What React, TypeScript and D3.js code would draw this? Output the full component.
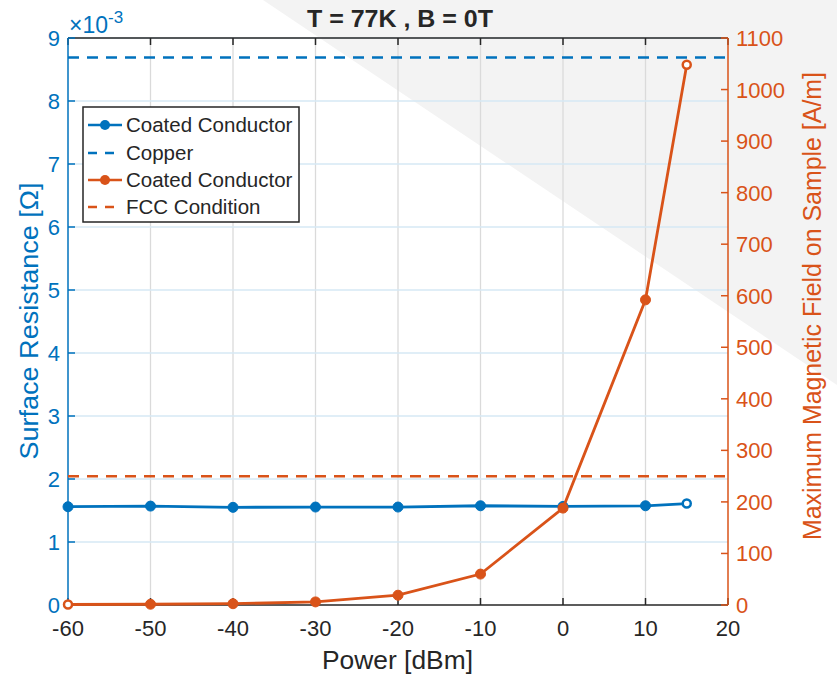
import React from "react";
import * as d3 from "d3";

const power = [-60, -50, -40, -30, -20, -10, 0, 10, 15];
const surfaceResistance = [1.56, 1.57, 1.55, 1.555, 1.555, 1.575, 1.565, 1.575, 1.61]; // ×10^-3 Ω
const magneticField = [1, 1.5, 2.5, 6, 19, 60, 188, 592, 1048]; // A/m
const copperLevel = 8.69; // ×10^-3 Ω
const fccLevel = 250; // A/m
const xTicks = [-60, -50, -40, -30, -20, -10, 0, 10, 20];
const leftTicks = [0, 1, 2, 3, 4, 5, 6, 7, 8, 9];
const rightTicks = [0, 100, 200, 300, 400, 500, 600, 700, 800, 900, 1000, 1100];
const legendLabels = ["Coated Conductor", "Copper", "Coated Conductor", "FCC Condition"];

const W = 837, H = 676;
const M = { left: 68, right: 728, top: 38, bottom: 605 };
const BLUE = "#0072BD";
const ORANGE = "#D95319";
const DARK = "#262626";
const FONT = "'Liberation Sans', Arial, Helvetica, sans-serif";

export default function App() {
  const x = d3.scaleLinear().domain([-60, 20]).range([M.left, M.right]);
  const yL = d3.scaleLinear().domain([0, 9]).range([M.bottom, M.top]);
  const yR = d3.scaleLinear().domain([0, 1100]).range([M.bottom, M.top]);

  const lineL = d3.line<number>().x((_, i) => x(power[i])).y((d) => yL(d));
  const lineR = d3.line<number>().x((_, i) => x(power[i])).y((d) => yR(d));
  const last = power.length - 1;
  const tick = 7;

  const legendY = [125, 153, 180, 207];

  return (
    <svg width={W} height={H} style={{ position: "absolute", left: 0, top: 0, background: "#fff" }} fontFamily={FONT}>
      <rect width={W} height={H} fill="#fff" />
      <polygon points={`263,0 ${W},0 ${W},385`} fill="#f3f3f3" />

      {/* grid */}
      {xTicks.slice(1, -1).map((t) => (
        <line key={"gx" + t} x1={x(t)} x2={x(t)} y1={M.top} y2={M.bottom} stroke="#dadada" strokeWidth={1.3} />
      ))}
      {leftTicks.slice(1).map((t) => (
        <line key={"gy" + t} x1={M.left} x2={M.right} y1={yL(t)} y2={yL(t)} stroke="#d6e8f5" strokeWidth={1.3} />
      ))}

      {/* box top/bottom */}
      <line x1={M.left} x2={M.right} y1={M.top} y2={M.top} stroke={DARK} strokeWidth={1.5} />
      <line x1={M.left} x2={M.right} y1={M.bottom} y2={M.bottom} stroke={DARK} strokeWidth={1.5} />
      {xTicks.map((t) => (
        <g key={"xt" + t}>
          <line x1={x(t)} x2={x(t)} y1={M.bottom} y2={M.bottom - tick} stroke={DARK} strokeWidth={1.5} />
          <line x1={x(t)} x2={x(t)} y1={M.top} y2={M.top + tick} stroke={DARK} strokeWidth={1.5} />
          <text x={x(t)} y={M.bottom + 31} fontSize={22} fill={DARK} textAnchor="middle">{t}</text>
        </g>
      ))}

      {/* left axis */}
      <line x1={M.left} x2={M.left} y1={M.top} y2={M.bottom} stroke={BLUE} strokeWidth={1.5} />
      {leftTicks.map((t) => (
        <g key={"lt" + t}>
          <line x1={M.left} x2={M.left + tick} y1={yL(t)} y2={yL(t)} stroke={BLUE} strokeWidth={1.5} />
          <text x={M.left - 8} y={yL(t) + 8} fontSize={22} fill={BLUE} textAnchor="end">{t}</text>
        </g>
      ))}
      <text x={69} y={33} fontSize={23} fill={BLUE}>
        ×10<tspan dy={-10} fontSize={17}>-3</tspan>
      </text>
      <text transform={`translate(38,321) rotate(-90)`} fontSize={25} fill={BLUE} textAnchor="middle"
        textLength={277} lengthAdjust="spacingAndGlyphs">
        Surface Resistance [Ω]
      </text>

      {/* right axis */}
      <line x1={M.right} x2={M.right} y1={M.top} y2={M.bottom} stroke={ORANGE} strokeWidth={1.5} />
      {rightTicks.map((t) => (
        <g key={"rt" + t}>
          <line x1={M.right} x2={M.right - tick} y1={yR(t)} y2={yR(t)} stroke={ORANGE} strokeWidth={1.5} />
          <text x={M.right + 8} y={yR(t) + 8} fontSize={22} fill={ORANGE} textAnchor="start">{t}</text>
        </g>
      ))}
      <text transform={`translate(821,306) rotate(-90)`} fontSize={25} fill={ORANGE} textAnchor="middle"
        textLength={468} lengthAdjust="spacingAndGlyphs">
        Maximum Magnetic Field on Sample [A/m]
      </text>

      {/* x label + title */}
      <text x={397.5} y={669} fontSize={25} fill={DARK} textAnchor="middle" textLength={151} lengthAdjust="spacingAndGlyphs">Power [dBm]</text>
      <text x={400} y={27} fontSize={24} fontWeight="bold" fill={DARK} textAnchor="middle" textLength={186} lengthAdjust="spacingAndGlyphs">T = 77K , B = 0T</text>

      {/* reference lines */}
      <line x1={M.left} x2={M.right} y1={yL(copperLevel)} y2={yL(copperLevel)} stroke={BLUE} strokeWidth={2.5} strokeDasharray="11,8" />
      <line x1={M.left} x2={M.right} y1={yR(fccLevel)} y2={yR(fccLevel)} stroke={ORANGE} strokeWidth={2.5} strokeDasharray="11,8" />

      {/* blue series */}
      <path d={lineL(surfaceResistance) || ""} fill="none" stroke={BLUE} strokeWidth={2.8} />
      {surfaceResistance.map((v, i) => (
        <circle key={"bm" + i} cx={x(power[i])} cy={yL(v)} r={i === last ? 4 : 5} fill={i === last ? "#fff" : BLUE} stroke={BLUE} strokeWidth={i === last ? 2.5 : 1} />
      ))}

      {/* orange series */}
      <path d={lineR(magneticField) || ""} fill="none" stroke={ORANGE} strokeWidth={2.8} />
      {magneticField.map((v, i) => {
        const hollow = i === 0 || i === last;
        return (
          <circle key={"om" + i} cx={x(power[i])} cy={yR(v)} r={hollow ? 4 : 5} fill={hollow ? "#fff" : ORANGE} stroke={ORANGE} strokeWidth={hollow ? 2.5 : 1} />
        );
      })}

      {/* legend */}
      <rect x={83} y={107} width={216} height={115} fill="#fff" stroke={DARK} strokeWidth={1.5} />
      {legendLabels.map((lab, i) => {
        const c = i < 2 ? BLUE : ORANGE;
        const dashed = i % 2 === 1;
        const y = legendY[i];
        return (
          <g key={"lg" + i}>
            <line x1={88} x2={122} y1={y} y2={y} stroke={c} strokeWidth={2.5} strokeDasharray={dashed ? "9,8" : undefined} />
            {!dashed && <circle cx={105} cy={y} r={5} fill={c} />}
            <text x={126} y={y + 7} fontSize={20.5} fill={DARK}>{lab}</text>
          </g>
        );
      })}
    </svg>
  );
}
